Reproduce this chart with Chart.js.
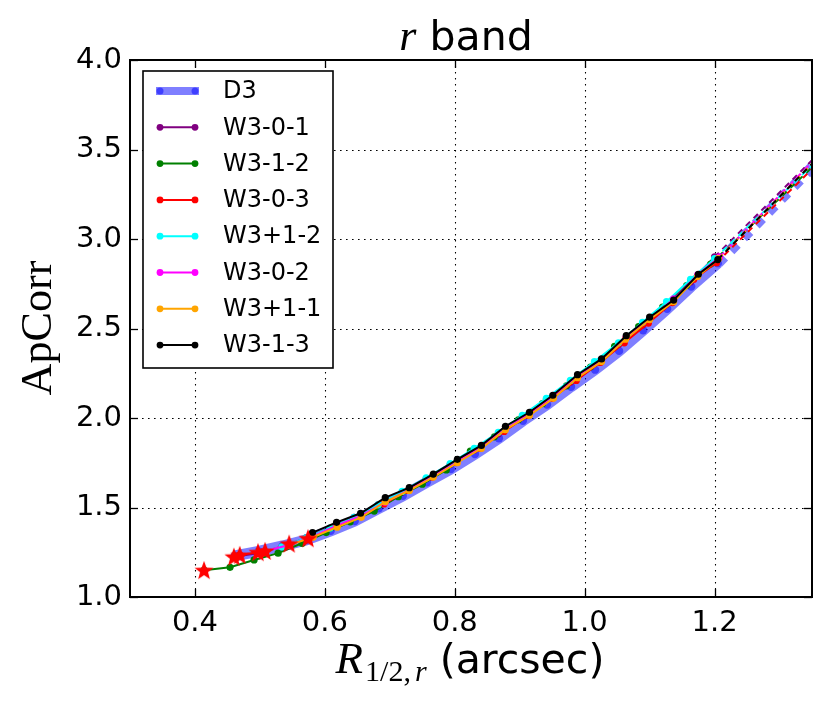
<!DOCTYPE html>
<html>
<head>
<meta charset="utf-8">
<script src="https://cdn.jsdelivr.net/npm/chart.js@4.4.1/dist/chart.umd.min.js"></script>
<style>
html,body{margin:0;padding:0;background:#fff;}
#wrap{width:830px;height:712px;position:relative;}
</style>
</head>
<body>
<div id="wrap"><canvas id="c" width="830" height="712"></canvas></div>
<script>
// ---- data ----
const xTicks = [0.4, 0.6, 0.8, 1.0, 1.2];
const yTicks = [1.0, 1.5, 2.0, 2.5, 3.0, 3.5, 4.0];
const seriesNames = ['D3', 'W3-0-1', 'W3-1-2', 'W3-0-3', 'W3+1-2', 'W3-0-2', 'W3+1-1', 'W3-1-3'];
const seriesColors = ['rgba(0,0,255,0.5)', '#800080', '#008000', '#ff0000', '#00ffff', '#ff00ff', '#ffa500', '#000000'];

const d3X = [0.461,0.498,0.535,0.572,0.609,0.646,0.683,0.720,0.757,0.794,0.831,0.868,0.905,0.942,0.979,1.016,1.053,1.090,1.127,1.164,1.205];
const d3Y = [1.23,1.255,1.285,1.32,1.37,1.425,1.495,1.565,1.641,1.715,1.799,1.887,1.985,2.075,2.175,2.27,2.375,2.49,2.61,2.735,2.865];

const w301X = [0.460,0.497,0.534,0.571,0.608,0.645,0.682,0.719,0.756,0.793,0.830,0.867,0.904,0.941,0.978,1.015,1.052,1.089,1.126,1.163,1.200];
const w301Y = [1.225,1.245,1.28,1.33,1.385,1.445,1.515,1.585,1.66,1.74,1.82,1.91,2.005,2.10,2.20,2.305,2.41,2.52,2.635,2.76,2.90];

const w312X = [0.414,0.454,0.491,0.528,0.565,0.602,0.639,0.676,0.713,0.750,0.787,0.824,0.861,0.898,0.935,0.972,1.009,1.046,1.083,1.120,1.157,1.194];
const w312Y = [1.15,1.166,1.207,1.245,1.30,1.36,1.42,1.48,1.56,1.63,1.71,1.815,1.895,1.99,2.08,2.18,2.285,2.40,2.51,2.62,2.74,2.86];

const w303X = [0.469,0.506,0.543,0.580,0.617,0.654,0.691,0.728,0.765,0.802,0.839,0.876,0.913,0.950,0.987,1.024,1.061,1.098,1.135,1.168,1.203];
const w303Y = [1.235,1.255,1.29,1.335,1.395,1.45,1.52,1.595,1.67,1.75,1.83,1.925,2.015,2.11,2.21,2.31,2.42,2.53,2.645,2.775,2.868];

const wp12X = [0.497,0.534,0.571,0.608,0.645,0.682,0.719,0.756,0.793,0.830,0.867,0.904,0.941,0.978,1.015,1.052,1.089,1.126,1.163,1.200];
const wp12Y = [1.25,1.28,1.33,1.385,1.445,1.515,1.59,1.665,1.745,1.83,1.92,2.015,2.11,2.21,2.315,2.42,2.535,2.65,2.775,2.89];

const w302X = [0.508,0.545,0.582,0.619,0.656,0.693,0.730,0.767,0.804,0.841,0.878,0.915,0.952,0.989,1.026,1.063,1.100,1.137,1.174,1.208];
const w302Y = [1.257,1.29,1.34,1.40,1.455,1.53,1.60,1.675,1.755,1.84,1.94,2.025,2.125,2.235,2.325,2.445,2.555,2.665,2.80,2.90];

const wp11X = [0.545,0.582,0.619,0.656,0.693,0.730,0.767,0.804,0.841,0.878,0.915,0.952,0.989,1.026,1.063,1.100,1.137,1.174,1.206];
const wp11Y = [1.29,1.335,1.39,1.445,1.532,1.595,1.67,1.75,1.83,1.935,2.015,2.11,2.225,2.315,2.44,2.55,2.65,2.79,2.89];

const w313X = [0.581,0.618,0.655,0.693,0.730,0.767,0.804,0.841,0.878,0.915,0.951,0.989,1.026,1.064,1.100,1.137,1.175,1.205];
const w313Y = [1.36,1.417,1.468,1.555,1.611,1.687,1.769,1.847,1.954,2.032,2.127,2.242,2.330,2.460,2.563,2.659,2.803,2.885];

// dashed extrapolation end values at x = 1.35 (one per series, same order as seriesNames)
const extX = 1.35;
const extY = [3.40, 3.44, 3.40, 3.39, 3.41, 3.43, 3.42, 3.42];

// red stars
const starX = [0.414, 0.460, 0.469, 0.497, 0.508, 0.545, 0.574];
const starY = [1.150, 1.225, 1.235, 1.250, 1.257, 1.298, 1.328];

// ---- build ----
const seriesX = [d3X, w301X, w312X, w303X, wp12X, w302X, wp11X, w313X];
const seriesY = [d3Y, w301Y, w312Y, w303Y, wp12Y, w302Y, wp11Y, w313Y];

function pts(xs, ys) { return xs.map((x, i) => ({x: x, y: ys[i]})); }

function makeStar(r) {
  const s = Math.ceil(r * 2 + 4);
  const c = document.createElement('canvas');
  c.width = s; c.height = s;
  const g = c.getContext('2d');
  g.fillStyle = '#ff0000';
  g.beginPath();
  for (let i = 0; i < 10; i++) {
    const rr = (i % 2) ? r * 0.42 : r;
    const a = -Math.PI / 2 + i * Math.PI / 5;
    g.lineTo(s / 2 + rr * Math.cos(a), s / 2 + rr * Math.sin(a) + r * 0.08);
  }
  g.closePath();
  g.fill();
  return c;
}
const starImg = makeStar(10);

const datasets = seriesNames.map((name, i) => {
  const isD3 = i === 0;
  const data = pts(seriesX[i], seriesY[i]).concat([{x: extX, y: extY[i]}]);
  return {
    label: name,
    data: data,
    showLine: true,
    borderColor: seriesColors[i],
    backgroundColor: seriesColors[i],
    borderWidth: isD3 ? 11 : 2,
    pointBackgroundColor: seriesColors[i],
    pointBorderWidth: 0,
    pointRadius: ctx => (ctx.raw && ctx.raw.x > 1.3) ? 0 : (isD3 ? 4.2 : 3.6),
    pointHoverRadius: 0,
    tension: 0,
    borderCapStyle: 'butt',
    segment: {
      borderDash: ctx => ctx.p1.parsed.x > 1.3 ? (isD3 ? [9, 9] : [6, 5]) : undefined
    },
    order: 8 - i
  };
});
datasets.push({
  label: 'stars',
  data: pts(starX, starY),
  showLine: false,
  pointStyle: starImg,
  pointRadius: 10,
  order: 0
});

// ---- plugins ----
function fitFont(ctx, text, family, style, target) {
  ctx.font = style + ' 100px ' + family;
  const w = ctx.measureText(text).width;
  return 100 * target / w;
}

const gridPlugin = {
  id: 'mplGrid',
  beforeDatasetsDraw(chart) {
    const {ctx, chartArea: a, scales: {x, y}} = chart;
    ctx.save();
    ctx.strokeStyle = '#000';
    ctx.lineWidth = 1.1;
    ctx.setLineDash([1.6, 4.4]);
    xTicks.forEach(v => {
      const px = Math.round(x.getPixelForValue(v)) + 0.5;
      ctx.beginPath(); ctx.moveTo(px, a.top); ctx.lineTo(px, a.bottom); ctx.stroke();
    });
    yTicks.forEach(v => {
      const py = Math.round(y.getPixelForValue(v)) + 0.5;
      ctx.beginPath(); ctx.moveTo(a.left, py); ctx.lineTo(a.right, py); ctx.stroke();
    });
    ctx.restore();
  }
};

const framePlugin = {
  id: 'mplFrame',
  afterDatasetsDraw(chart) {
    const {ctx, chartArea: a, scales: {x, y}} = chart;
    ctx.save();
    ctx.strokeStyle = '#000';
    ctx.lineWidth = 1.3;
    ctx.setLineDash([]);
    const L = 8;
    xTicks.forEach(v => {
      const px = Math.round(x.getPixelForValue(v)) + 0.5;
      ctx.beginPath(); ctx.moveTo(px, a.bottom); ctx.lineTo(px, a.bottom - L); ctx.stroke();
      ctx.beginPath(); ctx.moveTo(px, a.top); ctx.lineTo(px, a.top + L); ctx.stroke();
    });
    yTicks.forEach(v => {
      const py = Math.round(y.getPixelForValue(v)) + 0.5;
      ctx.beginPath(); ctx.moveTo(a.left, py); ctx.lineTo(a.left + L, py); ctx.stroke();
      ctx.beginPath(); ctx.moveTo(a.right, py); ctx.lineTo(a.right - L, py); ctx.stroke();
    });
    ctx.lineWidth = 2;
    ctx.strokeRect(a.left, a.top, a.right - a.left, a.bottom - a.top);
    ctx.restore();
  }
};

const legendPlugin = {
  id: 'mplLegend',
  afterDraw(chart) {
    const {ctx} = chart;
    const bx = 143, by = 71, bw = 190, bh = 297;
    ctx.save();
    ctx.fillStyle = '#fff';
    ctx.fillRect(bx, by, bw, bh);
    ctx.strokeStyle = '#000';
    ctx.lineWidth = 1.6;
    ctx.strokeRect(bx, by, bw, bh);
    const x0 = 160, x1 = 195, tx = 223;
    seriesNames.forEach((name, i) => {
      const yy = 91 + i * 36.3;
      const isD3 = i === 0;
      ctx.strokeStyle = seriesColors[i];
      ctx.lineWidth = isD3 ? 8 : 2;
      ctx.lineCap = 'butt';
      ctx.beginPath(); ctx.moveTo(x0 - (isD3 ? 4 : 0), yy); ctx.lineTo(x1 + (isD3 ? 4 : 0), yy); ctx.stroke();
      ctx.fillStyle = seriesColors[i];
      [x0, x1].forEach(px => {
        ctx.beginPath(); ctx.arc(px, yy, isD3 ? 3.5 : 3.4, 0, Math.PI * 2); ctx.fill();
      });
      ctx.fillStyle = '#000';
      ctx.font = '24px "DejaVu Sans"';
      ctx.textBaseline = 'middle';
      ctx.textAlign = 'left';
      ctx.fillText(name, tx, yy + 1);
    });
    ctx.restore();
  }
};

const titlesPlugin = {
  id: 'mplTitles',
  afterDraw(chart) {
    const {ctx} = chart;
    ctx.save();
    ctx.fillStyle = '#000';
    ctx.textBaseline = 'alphabetic';
    ctx.textAlign = 'left';
    // title: italic r + " band"
    {
      const f1 = 'italic 44px "Liberation Serif"';
      const f2 = '41px "DejaVu Sans"';
      ctx.font = f1; const w1 = ctx.measureText('r').width;
      ctx.font = f2; const w2 = ctx.measureText(' band').width;
      let sx = 466 - (w1 + w2) / 2;
      const base = 50;
      ctx.font = f1; ctx.fillText('r', sx, base);
      ctx.font = f2; ctx.fillText(' band', sx + w1, base);
    }
    // x title
    {
      const fR = 'italic 45px "Liberation Serif"';
      const fS = '30px "Liberation Serif"';
      const fSi = 'italic 30px "Liberation Serif"';
      const fT = '41px "DejaVu Sans"';
      ctx.font = fR; const wR = ctx.measureText('R').width;
      ctx.font = fS; const wS1 = ctx.measureText('1/2,').width;
      ctx.font = fSi; const wS2 = ctx.measureText('r').width;
      ctx.font = fT; const wT = ctx.measureText(' (arcsec)').width;
      const total = wR + 2 + wS1 + 4 + wS2 + wT;
      let sx = 470 - total / 2;
      const base = 673;
      ctx.font = fR; ctx.fillText('R', sx, base); sx += wR + 2;
      ctx.font = fS; ctx.fillText('1/2,', sx, base + 8); sx += wS1 + 4;
      ctx.font = fSi; ctx.fillText('r', sx, base + 8); sx += wS2;
      ctx.font = fT; ctx.fillText(' (arcsec)', sx, base);
    }
    // y title
    {
      ctx.translate(51, 328);
      ctx.rotate(-Math.PI / 2);
      ctx.textAlign = 'center';
      const size = fitFont(ctx, 'ApCorr', '"Liberation Serif"', '', 135);
      ctx.font = size.toFixed(1) + 'px "Liberation Serif"';
      ctx.fillText('ApCorr', 0, 0);
    }
    ctx.restore();
  }
};

new Chart(document.getElementById('c'), {
  type: 'scatter',
  data: {datasets: datasets},
  options: {
    responsive: false,
    animation: false,
    events: [],
    layout: {padding: {top: 60, right: 18, left: 0, bottom: 0}},
    plugins: {legend: {display: false}, title: {display: false}, tooltip: {enabled: false}},
    scales: {
      x: {
        type: 'linear',
        min: 0.3, max: 1.35,
        afterBuildTicks: s => { s.ticks = xTicks.map(v => ({value: v})); },
        afterFit: s => { s.height = 115; },
        grid: {display: false, drawTicks: false},
        border: {display: false},
        ticks: {
          color: '#000', padding: 9,
          font: {family: 'DejaVu Sans', size: 29},
          maxRotation: 0,
          callback: v => Number(v).toFixed(1)
        }
      },
      y: {
        type: 'linear',
        min: 1.0, max: 4.0,
        afterBuildTicks: s => { s.ticks = yTicks.map(v => ({value: v})); },
        afterFit: s => { s.width = 130; },
        grid: {display: false, drawTicks: false},
        border: {display: false},
        ticks: {
          color: '#000', padding: 8,
          font: {family: 'DejaVu Sans', size: 29},
          callback: v => Number(v).toFixed(1)
        }
      }
    }
  },
  plugins: [gridPlugin, framePlugin, legendPlugin, titlesPlugin]
});
</script>
</body>
</html>
